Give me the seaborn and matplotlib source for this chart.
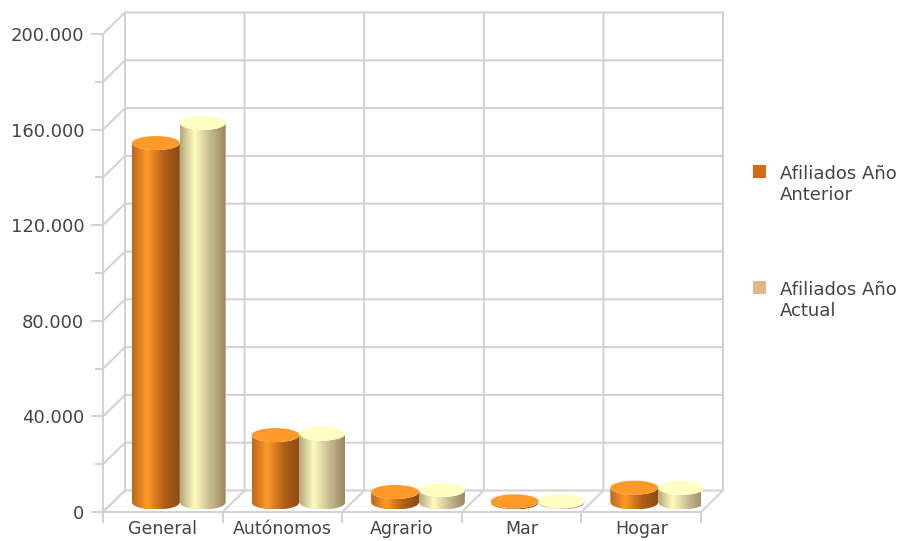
import numpy as np
import pandas as pd
import matplotlib
matplotlib.use("Agg")
import matplotlib.pyplot as plt
import seaborn as sns
from matplotlib.colors import LinearSegmentedColormap
from matplotlib.patches import Ellipse, Patch, PathPatch
from matplotlib.path import Path

categories = ["General", "Autónomos", "Agrario", "Mar", "Hogar"]
anterior = [150400, 28200, 4400, 500, 6200]
actual = [158800, 28800, 5200, 500, 6100]
series_names = ["Afiliados Año\nAnterior", "Afiliados Año\nActual"]
y_major = [0, 40000, 80000, 120000, 160000, 200000]
y_minor = [20000, 60000, 100000, 140000, 180000]

df = pd.DataFrame({
    "cat": categories * 2,
    "val": anterior + actual,
    "serie": [series_names[0]] * 5 + [series_names[1]] * 5,
})

legend_cols = ["#d2691e", "#deb887"]
side_cols = [["#b9681c", "#ff9a28", "#b4611a", "#8a4a12"],
             ["#b5a67c", "#fdfcc0", "#c9bc90", "#9a8660"]]
top_cols = ["#ff9a28", "#ffffc4"]
grid_col = "#d2d2d2"
text_col = "#444444"

sns.set_theme(style="white")
plt.rcParams["font.family"] = "DejaVu Sans"

fig = plt.figure(figsize=(8.99, 5.41), dpi=100)
ax = fig.add_axes([103 / 899, 29 / 541, 598 / 899, 478 / 541])
sns.barplot(data=df, x="cat", y="val", hue="serie", palette=legend_cols,
            width=0.8, gap=0, saturation=1, legend=False, ax=ax)
ax.set_xlim(-0.5, 4.5)
ax.set_ylim(0, 200000)

# pixels to data units
px_x = 5 / 598
px_y = 200000 / 478
depth_x = 22 * px_x
depth_y = 21.5 * px_y

# back wall, floor and side diagonals
for y in y_major + y_minor:
    ax.plot([-0.5, -0.5 + depth_x, 4.5 + depth_x], [y, y + depth_y, y + depth_y],
            color=grid_col, lw=1.44, clip_on=False, zorder=1)
for i in range(6):
    xb = i - 0.5
    ax.plot([xb, xb + depth_x, xb + depth_x], [0, depth_y, 200000 + depth_y],
            color=grid_col, lw=1.44, clip_on=False, zorder=1)

# cylinders drawn over the bars seaborn placed
shift_x = 17 * px_x
shift_y = 9.5 * px_y
half_h = 7 * px_y
for s, cont in enumerate(ax.containers):
    cmap = LinearSegmentedColormap.from_list("side", list(zip([0, 0.32, 0.65, 1], side_cols[s])))
    for bar in cont:
        bar.set_visible(False)
        x0 = bar.get_x() + shift_x
        # the second cylinder is a little narrower in the original
        w = bar.get_width() - s * 2 * px_x
        top = bar.get_height() + shift_y
        xs = np.linspace(x0, x0 + w, 40)
        t = (xs - x0) / w
        arc = half_h * np.sqrt(np.clip(1 - (2 * t - 1) ** 2, 0, 1))
        verts = list(zip(xs, shift_y - arc)) + list(zip(xs[::-1], (top - arc)[::-1]))
        clip = PathPatch(Path(verts + [verts[0]], closed=True), transform=ax.transData)
        im = ax.imshow(np.linspace(0, 1, 256).reshape(1, -1), cmap=cmap, aspect="auto",
                       extent=[x0, x0 + w, shift_y - half_h, top], interpolation="bilinear",
                       zorder=3 + s)
        im.set_clip_path(clip)
        ax.add_patch(Ellipse((x0 + w / 2, top), w, 2 * half_h, color=top_cols[s],
                             lw=0, clip_on=False, zorder=3 + s))
ax.set_xlim(-0.5, 4.5)
ax.set_ylim(0, 200000)

for name in ["top", "right"]:
    ax.spines[name].set_visible(False)
for name in ["left", "bottom"]:
    ax.spines[name].set_color(grid_col)
    ax.spines[name].set_linewidth(1.44)
ax.set_xlabel("")
ax.set_ylabel("")
ax.set_yticks(y_major)
ax.set_yticklabels([f"{v:,}".replace(",", ".") for v in y_major])
ax.set_yticks(y_minor, minor=True)
ax.set_xticks(range(5))
ax.set_xticklabels(categories)
ax.set_xticks([i - 0.5 for i in range(6)], minor=True)
ax.tick_params(axis="x", which="major", length=0, pad=6, labelsize=12.5, labelcolor=text_col)
ax.tick_params(axis="x", which="minor", length=8, width=1.44, color=grid_col, bottom=True)
ax.tick_params(axis="y", which="major", length=8.5, width=1.44, color=grid_col, left=True,
               pad=5, labelsize=13, labelcolor=text_col)
ax.tick_params(axis="y", which="minor", length=5.5, width=1.44, color=grid_col, left=True)

handles = [Patch(color=c, lw=0) for c in legend_cols]
leg = fig.legend(handles, series_names, loc="upper left", bbox_to_anchor=(753 / 899, 1 - 165 / 541),
                 frameon=False, fontsize=13, labelcolor=text_col, handlelength=0.72,
                 handleheight=0.72, handletextpad=0.78, labelspacing=4.28, borderpad=0, borderaxespad=0)
for txt in leg.get_texts():
    txt.set_linespacing(1.2)
for row in leg._legend_handle_box.get_children()[0].get_children():
    row.align = "top"

fig.savefig("out.png", dpi=100)
